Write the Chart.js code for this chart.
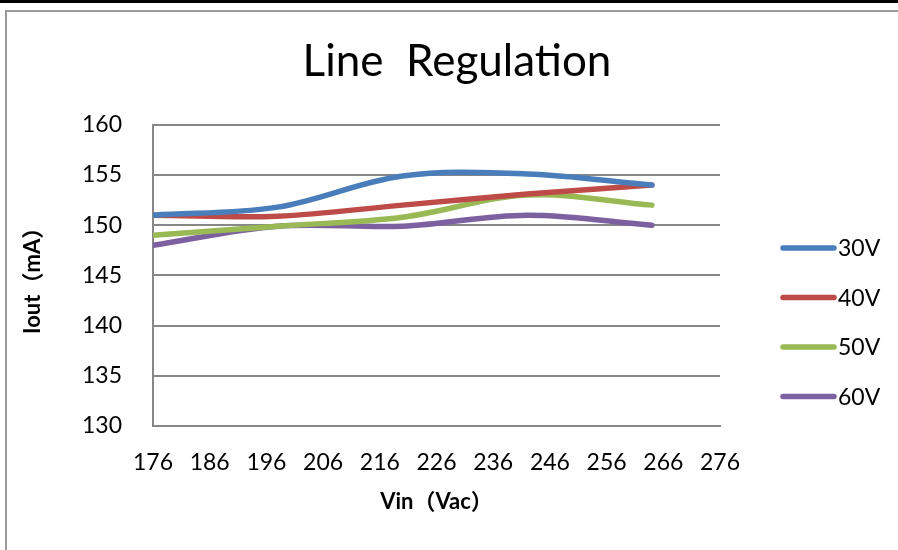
<!DOCTYPE html>
<html>
<head>
<meta charset="utf-8">
<script src="https://cdn.jsdelivr.net/npm/chart.js@4.4.1/dist/chart.umd.min.js"></script>
<style>
  html, body { margin: 0; padding: 0; background: #ffffff; }
  #wrap { width: 898px; height: 550px; position: relative; }
</style>
</head>
<body>
<div id="wrap"><canvas id="chart" width="898" height="550"></canvas></div>
<script>
// Input voltage (Vac) at each measurement
const vin = [176, 198, 220, 242, 264];

// Output current (mA) per LED load voltage
const iout30V = [151.0, 151.8, 154.9, 155.1, 154.0];
const iout40V = [151.0, 150.9, 152.0, 153.1, 154.0];
const iout50V = [149.0, 149.9, 150.8, 153.0, 152.0];
const iout60V = [148.0, 149.9, 149.9, 151.0, 150.0];

const seriesNames = ['30V', '40V', '50V', '60V'];
const seriesColors = ['#4A7EBB', '#BE4B48', '#98B954', '#7D60A0'];

// Axis ticks
const xTickValues = [176, 186, 196, 206, 216, 226, 236, 246, 256, 266, 276];
const yTickValues = [130, 135, 140, 145, 150, 155, 160];

const FONT = "Lato, 'Noto Sans CJK SC', sans-serif";
const GRID = '#878787';

const allSeries = [iout30V, iout40V, iout50V, iout60V];
const datasets = allSeries.map((vals, i) => ({
  label: seriesNames[i],
  data: vin.map((v, j) => ({ x: v, y: vals[j] })),
  borderColor: seriesColors[i],
  backgroundColor: seriesColors[i],
  borderWidth: 5.5,
  borderCapStyle: 'round',
  borderJoinStyle: 'round',
  pointRadius: 0,
  pointHoverRadius: 0,
  tension: 0.35,
  fill: false
}));

// Outer frame of the chart sheet
const framePlugin = {
  id: 'frame',
  beforeDraw(chart) {
    const ctx = chart.ctx;
    ctx.save();
    ctx.fillStyle = '#ffffff';
    ctx.fillRect(0, 0, chart.width, chart.height);
    ctx.fillStyle = '#000000';
    ctx.fillRect(0, 0, chart.width, 3);
    ctx.strokeStyle = '#9a9a9a';
    ctx.lineWidth = 2;
    ctx.beginPath();
    ctx.moveTo(6, chart.height + 5);
    ctx.lineTo(6, 11);
    ctx.lineTo(chart.width + 5, 11);
    ctx.stroke();
    ctx.restore();
  }
};

// Centre the title across the whole sheet rather than the plot column
const titleSpanPlugin = {
  id: 'titleSpan',
  afterLayout(chart) {
    const t = chart.titleBlock;
    if (t) { t.left = 16; t.right = chart.width; t.width = t.right - t.left; }
  }
};

// Legend at the right: a thick line sample followed by the series name
const sideLegendPlugin = {
  id: 'sideLegend',
  afterDraw(chart) {
    const ctx = chart.ctx;
    ctx.save();
    chart.data.datasets.forEach((ds, i) => {
      const y = 248 + i * 49.5;
      ctx.strokeStyle = ds.borderColor;
      ctx.lineWidth = 5.5;
      ctx.lineCap = 'round';
      ctx.beginPath();
      ctx.moveTo(783, y);
      ctx.lineTo(834, y);
      ctx.stroke();
      ctx.fillStyle = '#000000';
      ctx.font = '23px ' + FONT;
      ctx.textAlign = 'left';
      ctx.textBaseline = 'middle';
      ctx.fillText(ds.label, 838, y + 1);
    });
    ctx.restore();
  }
};

new Chart(document.getElementById('chart'), {
  type: 'line',
  data: { datasets },
  plugins: [framePlugin, titleSpanPlugin, sideLegendPlugin],
  options: {
    responsive: false,
    animation: false,
    events: [],
    layout: { padding: { left: 0, right: 178, top: 0, bottom: 0 } },
    plugins: {
      legend: { display: false },
      tooltip: { enabled: false },
      title: {
        display: true,
        text: 'Line  Regulation',
        color: '#000000',
        font: { family: FONT, size: 44, weight: 'normal', lineHeight: 1.2 },
        padding: { top: 35, bottom: 37 }
      }
    },
    scales: {
      x: {
        type: 'linear',
        min: 176,
        max: 276,
        afterBuildTicks(s) { s.ticks = xTickValues.map(v => ({ value: v })); },
        afterFit(s) { s.height = 124; },
        grid: { display: false, drawTicks: false },
        border: { display: true, color: GRID, width: 2 },
        ticks: {
          color: '#000000',
          font: { family: FONT, size: 23 },
          padding: 23,
          maxRotation: 0,
          autoSkip: false
        },
        title: {
          display: true,
          text: 'Vin（Vac）',
          color: '#000000',
          font: { family: FONT, size: 22, weight: 'bold', lineHeight: 1.2 },
          padding: { top: 0, bottom: 35 }
        }
      },
      y: {
        type: 'linear',
        min: 130,
        max: 160,
        afterBuildTicks(s) { s.ticks = yTickValues.map(v => ({ value: v })); },
        afterFit(s) { s.width = 153; },
        grid: { display: true, color: GRID, lineWidth: 2, drawTicks: false },
        border: { display: true, color: GRID, width: 2 },
        ticks: {
          color: '#000000',
          font: { family: FONT, size: 23 },
          padding: 31
        },
        title: {
          display: true,
          text: 'Iout（mA）',
          color: '#000000',
          font: { family: FONT, size: 22, weight: 'bold', lineHeight: 1.2 },
          padding: { top: 20, bottom: 0 }
        }
      }
    }
  }
});
</script>
</body>
</html>
